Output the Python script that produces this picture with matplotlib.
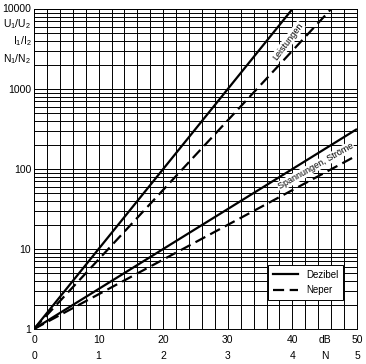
import matplotlib
matplotlib.use("Agg")
import matplotlib.pyplot as plt
from matplotlib.lines import Line2D
import numpy as np

plt.rcParams['font.family'] = ['Liberation Sans', 'DejaVu Sans']
plt.rcParams['mathtext.fontset'] = 'custom'
plt.rcParams['mathtext.rm'] = 'Liberation Sans'
plt.rcParams['mathtext.it'] = 'Liberation Sans'

# data (end points; lines are straight on log scale)
power_db_x = [0, 40]
power_db_y = [1, 10000]
power_np_x = [0, 46]
power_np_y = [1, 10000]
volt_db_x = [0, 50]
volt_db_y = [1, 316]
volt_np_x = [0, 50]
volt_np_y = [1, 148]

db_ticks = [0, 10, 20, 30, 40, 50]
db_labels = ['0', '10', '20', '30', '40', '50']
np_labels = ['0', '1', '2', '3', '4', '5']
y_ticks = [1, 10, 100, 1000, 10000]
y_labels = ['1', '10', '100', '1000', '10000']

fig = plt.figure(figsize=(3.66, 3.64), dpi=100)
ax = fig.add_axes([34/366, 35/364, (357-34)/366, (329-9)/364])
ax.set_yscale('log')
ax.set_xlim(0, 50)
ax.set_ylim(1, 10000)

ax.set_xticks(db_ticks)
ax.set_xticklabels([])
ax.set_xticks(np.arange(0, 51, 2), minor=True)
ax.set_yticks(y_ticks)
ax.set_yticklabels(y_labels[:-1] + [''])
ax.set_yticks([m * 10**d for d in range(4) for m in range(2, 10)], minor=True)
ax.yaxis.set_minor_formatter(plt.NullFormatter())
ax.tick_params(which='both', length=0, labelsize=7.5, pad=2)
ax.grid(which='both', color='black', linewidth=0.7)
for s in ax.spines.values():
    s.set_linewidth(0.7)
ax.set_axisbelow(True)

lw = 1.6
ax.plot(power_db_x, power_db_y, color='black', lw=lw, solid_capstyle='butt', zorder=3)
ax.plot(power_np_x, power_np_y, color='black', lw=lw, dashes=(5, 2.5), zorder=3)
ax.plot(volt_db_x, volt_db_y, color='black', lw=lw, solid_capstyle='butt', zorder=3)
ax.plot(volt_np_x, volt_np_y, color='black', lw=lw, dashes=(5, 2.5), zorder=3)

bbox = dict(facecolor='white', edgecolor='none', pad=0.5)
ax.text(39.3, 3900, 'Leistungen', rotation=53, fontsize=6.5,
        ha='center', va='center', rotation_mode='anchor', bbox=bbox, zorder=2)
ax.text(43.6, 108, 'Spannungen, Ströme', rotation=29.5, fontsize=6.5,
        ha='center', va='center', rotation_mode='anchor', bbox=bbox, zorder=2)

# bottom labels
tr = ax.get_xaxis_transform()
for x, l1, l2 in zip(db_ticks, db_labels, np_labels):
    ax.text(x, -0.02, l1, transform=tr, ha='center', va='top', fontsize=7.5)
    ax.text(x, -0.07, l2, transform=tr, ha='center', va='top', fontsize=7.5)
ax.text(45, -0.02, 'dB', transform=tr, ha='center', va='top', fontsize=7.5)
ax.text(45, -0.07, 'N', transform=tr, ha='center', va='top', fontsize=7.5)

# left top labels
ta = ax.transAxes
ax.text(-0.008, 1.0, '10000', transform=ta, ha='right', va='center', fontsize=7.5)
ax.text(-0.008, 0.953, 'U$_1$/U$_2$', transform=ta, ha='right', va='center', fontsize=7.5)
ax.text(-0.008, 0.900, 'I$_1$/I$_2$', transform=ta, ha='right', va='center', fontsize=7.5)
ax.text(-0.008, 0.845, 'N$_1$/N$_2$', transform=ta, ha='right', va='center', fontsize=7.5)

handles = [Line2D([], [], color='black', lw=lw),
           Line2D([], [], color='black', lw=lw, dashes=(5, 2.5))]
leg = ax.legend(handles, ['Dezibel', 'Neper'], loc='lower right',
                bbox_to_anchor=(0.957, 0.09), borderaxespad=0, fontsize=7,
                frameon=True, fancybox=False, framealpha=1, edgecolor='black',
                handlelength=2.6, borderpad=0.5, labelspacing=0.6)
leg.get_frame().set_linewidth(0.7)
leg.set_zorder(5)

fig.savefig('out.png', dpi=100, facecolor='white')
